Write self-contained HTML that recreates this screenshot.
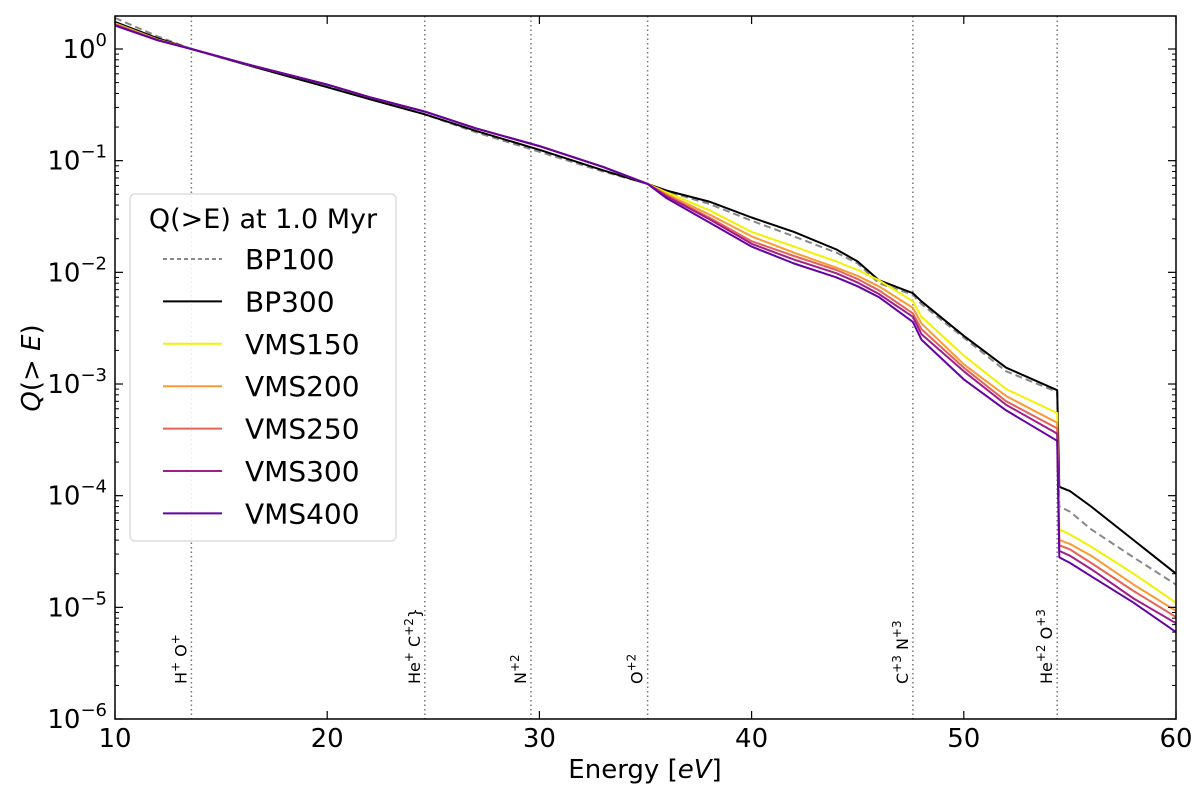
<!DOCTYPE html>
<html><head><meta charset="utf-8"><style>
body{margin:0;background:#fff;}
svg{display:block;font-family:"DejaVu Sans","Liberation Sans",sans-serif;}
</style></head><body>
<svg id="chart" width="1200" height="796" viewBox="0 0 1200 796" xmlns="http://www.w3.org/2000/svg"></svg>
<script>
const energies = [10,12,13.6,16,18,20,22,24.6,27,30,33,35.1,36,38,40,42,44,45,46,47.6,48,50,52,54.4,54.5,55,56,58,60];
const bp100  = [1.9,1.3,1.0,.74,.58,.46,.36,.26,.18,.12,.08,.062, .053,.041,.029,.021,.015,.012,.008,.0063,.0052,.0026,.0013,.00085,.00008,.000072,.00005,.000028,.000016];
const bp300  = [1.75,1.25,1.0,.74,.58,.455,.355,.26,.185,.125,.082,.062, .054,.043,.031,.023,.016,.0125,.0085,.0065,.0055,.0027,.0014,.00088,.00012,.00011,.00008,.00004,.00002];
const vms150 = [1.7,1.22,1.0,.75,.6,.48,.37,.275,.195,.135,.088,.062, .052,.036,.023,.017,.0125,.0105,.0085,.0055,.004,.0018,.0009,.00055,.00005,.000045,.000035,.00002,.000011];
const vms200 = [1.68,1.21,1.0,.75,.6,.48,.37,.275,.195,.135,.088,.062, .050,.033,.021,.015,.011,.0093,.0075,.0048,.0035,.0015,.00078,.00045,.00004,.000037,.000029,.000016,.0000093];
const vms250 = [1.66,1.21,1.0,.75,.6,.48,.37,.275,.195,.135,.088,.062, .049,.031,.019,.014,.0105,.0087,.0069,.0043,.0031,.0014,.0007,.0004,.000036,.000033,.000025,.000014,.0000082];
const vms300 = [1.64,1.2,1.0,.75,.6,.48,.37,.275,.195,.135,.088,.062, .048,.030,.018,.013,.0098,.0081,.0064,.0040,.0028,.0013,.00065,.00036,.000032,.000029,.000022,.000012,.0000072];
const vms400 = [1.62,1.2,1.0,.75,.6,.48,.37,.275,.195,.135,.088,.062, .046,.028,.017,.012,.009,.0075,.006,.0036,.0025,.0011,.00058,.00031,.000028,.000025,.000019,.000011,.000006];
const xTicks = [10,20,30,40,50,60];
const yDecades = [0,-1,-2,-3,-4,-5,-6];
const ionEnergies = [13.6,24.6,29.6,35.1,47.6,54.4];
const ionLabels = [["H","+"," O","+"],["He","+"," C","+2","}"],["N","+2"],["O","+2"],["C","+3"," N","+3"],["He","+2"," O","+3"]];

const L=115,R=1176,T=16,B=719,Y0=49,DEC=111.67;
const sx=e=>L+(e-10)*(R-L)/50;
const sy=v=>Y0-Math.log10(v)*DEC;
const svg=document.getElementById('chart');
const NS='http://www.w3.org/2000/svg';
function mk(tag,attrs,parent){const el=document.createElementNS(NS,tag);for(const k in attrs)el.setAttribute(k,attrs[k]);(parent||svg).appendChild(el);return el;}

// clip
const defs=mk('defs',{});
const cp=mk('clipPath',{id:'clip'},defs);
mk('rect',{x:L,y:T,width:R-L,height:B-T},cp);

// ion lines
ionEnergies.forEach((e,i)=>{
  const ln=mk('line',{x1:sx(e),x2:sx(e),y1:T,y2:B,stroke:'#777','stroke-width':1.5,'stroke-dasharray':'1.5,3'});
  
  
  const x=sx(e)-5,y=684;
  const t=mk('text',{x:x,y:y,transform:`rotate(-90 ${x} ${y})`,'font-size':16,fill:'#000'});
  
  
  const parts=ionLabels[i];
  parts.forEach((p,j)=>{
    const ts=mk('tspan',{},t);
    const sup=p.startsWith('+');
    if(sup){ts.setAttribute('font-size',12);ts.setAttribute('dy',-7);}
    else if(j>0 && parts[j-1].startsWith('+')){ts.setAttribute('dy',7);}
    ts.textContent=p;
  });
});

// series
const series=[
  {name:'BP100',d:bp100,c:'#888',dash:'7,4'},
  {name:'BP300',d:bp300,c:'#000'},
  {name:'VMS150',d:vms150,c:'#f2f200'},
  {name:'VMS200',d:vms200,c:'#fb9a32'},
  {name:'VMS250',d:vms250,c:'#e8605a'},
  {name:'VMS300',d:vms300,c:'#a01f8a'},
  {name:'VMS400',d:vms400,c:'#6402a4'}
];
const g=mk('g',{'clip-path':'url(#clip)'});
series.forEach(s=>{
  const pts=energies.map((e,i)=>sx(e).toFixed(1)+','+sy(s.d[i]).toFixed(1)).join(' ');
  const p=mk('polyline',{points:pts,fill:'none',stroke:s.c,'stroke-width':2,'stroke-linejoin':'round'},g);
  if(s.dash)p.setAttribute('stroke-dasharray',s.dash);
  
  
});

// frame
const fr=mk('rect',{x:L,y:T,width:R-L,height:B-T,fill:'none',stroke:'#000','stroke-width':1.5});



// x ticks
xTicks.forEach(v=>{
  const x=sx(v);
  mk('line',{x1:x,x2:x,y1:B,y2:B-8,stroke:'#000','stroke-width':1.2});
  mk('line',{x1:x,x2:x,y1:T,y2:T+8,stroke:'#000','stroke-width':1.2});
  const t=mk('text',{x:x,y:B+28,'text-anchor':'middle','font-size':26});
  t.textContent=v;
  
  
});
// y ticks
yDecades.forEach(d=>{
  const y=sy(Math.pow(10,d));
  mk('line',{x1:L,x2:L+8,y1:y,y2:y,stroke:'#000','stroke-width':1.2});
  mk('line',{x1:R,x2:R-8,y1:y,y2:y,stroke:'#000','stroke-width':1.2});
  const t=mk('text',{x:L-8,y:y+9,'text-anchor':'end','font-size':26});
  
  
  const a=mk('tspan',{},t);a.textContent='10';
  const b=mk('tspan',{'font-size':18,dy:-12},t);b.textContent=d===0?'0':'\u2212'+(-d);
  for(let m=2;m<=9;m++){
    const yy=sy(m*Math.pow(10,d-1));
    if(d-1<-6)break;
    if(yy<T)continue;
    mk('line',{x1:L,x2:L+4,y1:yy,y2:yy,stroke:'#000','stroke-width':1});
    mk('line',{x1:R,x2:R-4,y1:yy,y2:yy,stroke:'#000','stroke-width':1});
  }
});
// top partial decade minors
for(let m=2;m<=9;m++){const yy=sy(m);if(yy>T){mk('line',{x1:L,x2:L+4,y1:yy,y2:yy,stroke:'#000'});mk('line',{x1:R,x2:R-4,y1:yy,y2:yy,stroke:'#000'});}}

// axis titles
const xt=mk('text',{x:645,y:778,'text-anchor':'middle','font-size':26});


xt.innerHTML='Energy [<tspan font-style="italic">eV</tspan>]';
const yt=mk('text',{x:40,y:368,'text-anchor':'middle','font-size':26,transform:'rotate(-90 40 368)'});


yt.innerHTML='<tspan font-style="italic">Q</tspan>(&gt; <tspan font-style="italic">E</tspan>)';

// legend
const lg=mk('g',{});


mk('rect',{x:130,y:194,width:266,height:347,rx:5,fill:'#fff','fill-opacity':0.85,stroke:'#ddd','stroke-width':1.5},lg);
const lt=mk('text',{x:263,y:228,'text-anchor':'middle','font-size':27},lg);
lt.textContent='Q(>E) at 1.0 Myr';


series.forEach((s,i)=>{
  const y=259+i*42.4;
  const e=mk('g',{},lg);
  
  
  const l=mk('line',{x1:163,x2:222,y1:y,y2:y,stroke:s.c,'stroke-width':2},e);
  if(s.dash)l.setAttribute('stroke-dasharray','4,3');
  const t=mk('text',{x:245,y:y+10,'font-size':28},e);
  t.textContent=s.name;
});
</script>
</body></html>
